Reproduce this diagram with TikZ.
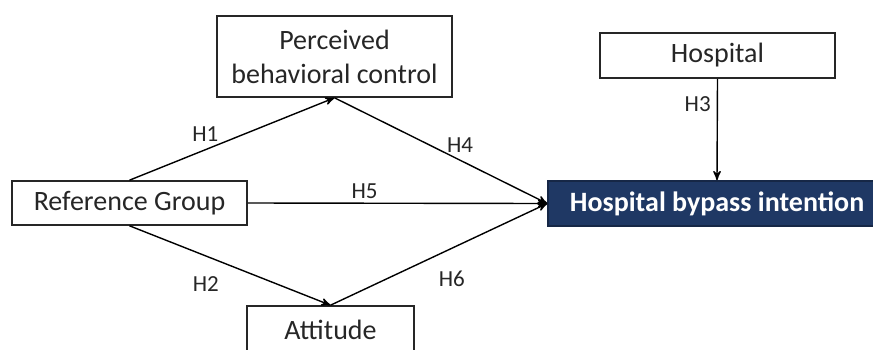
\documentclass[tikz,border=0pt]{standalone}
\usepackage{fontspec}
\setmainfont{Carlito}
\usetikzlibrary{positioning,arrows}
\definecolor{navy}{HTML}{1F3864}
\definecolor{linegray}{HTML}{262626}

\begin{document}
\begin{tikzpicture}[
  box/.style={rectangle,draw=linegray,line width=0.8pt,inner sep=2pt,align=center,text=linegray,font=\fontsize{14}{17}\selectfont},
  dbox/.style={box,fill=navy,draw=navy!70!black,text=white,font=\fontsize{14}{17}\selectfont\bfseries},
  hyp/.style={font=\fontsize{11.5}{13}\selectfont,text=linegray,inner sep=1pt},
  x=0.5pt,y=-0.5pt,
  ->,>=stealth',
  line width=0.7pt
]
  \clip (0,0) rectangle (873,349);

  % Boxes
  \node [box,minimum width=117.5pt,minimum height=22pt] (ref) at (129.5,203) {Reference Group};
  \node [box,minimum width=117.5pt,minimum height=40.5pt] (pbc) at (334.5,56.5) {Perceived\\behavioral control};
  \node [box,minimum width=83.5pt,minimum height=24pt] (att) at (330.5,330) {Attitude};
  \node [box,minimum width=117.5pt,minimum height=22.5pt] (hosp) at (717.5,55.5) {Hospital};
  \node [dbox,minimum width=169pt,minimum height=22.5pt] (hbi) at (717,203.5) {Hospital bypass intention};

  % Hypotheses
  \draw (ref.north) -- node[hyp,pos=0.37,above=3pt] {H1} (pbc.south);
  \draw (ref.south) -- node[hyp,pos=0.38,below=9pt] {H2} (att.north);
  \draw (hosp.south) -- node[hyp,pos=0.25,left=2pt] {H3} (hbi.north);
  \draw (pbc.south) -- node[hyp,pos=0.59,above=2.5pt] {H4} (hbi.west);
  \draw (ref.east) -- node[hyp,pos=0.39,above=1pt] {H5} (hbi.west);
  \draw (att.north) -- node[hyp,pos=0.56,below=10pt] {H6} (hbi.west);
\end{tikzpicture}
\end{document}
